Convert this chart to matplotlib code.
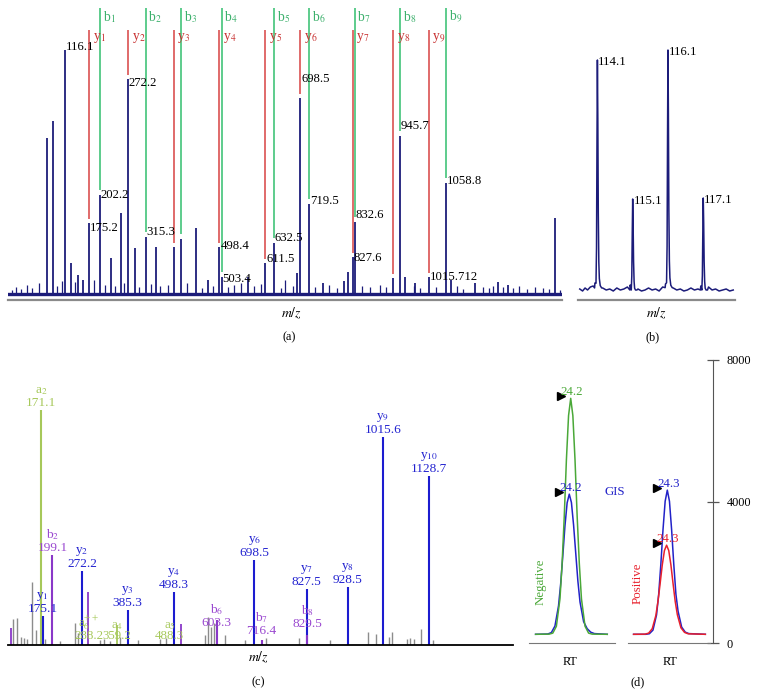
import numpy as np
import matplotlib
matplotlib.use('Agg')
from matplotlib import pyplot as plt

plt.rcParams['font.family'] = ['Liberation Serif', 'DejaVu Serif']
plt.rcParams['mathtext.fontset'] = 'stix'

# ---------------- data ----------------
# (a) MS/MS spectrum, m/z and intensity (arbitrary units)
a_mz = [70.8, 85.7, 116.1, 130.2, 148.3, 160.5, 175.2, 202.2, 229.2, 255.4, 272.2, 288.5,
        315.3, 340.5, 385.0, 403.1, 440.2, 470.0, 498.4, 503.4, 568.1, 611.5, 632.5,
        690.0, 698.5, 719.5, 753.7, 806.4, 817.0, 827.6, 832.6, 928.0, 945.7, 957.3,
        982.0, 1015.712, 1058.8, 1070.3, 1130.5, 1187.4, 1212.0, 1328.0]
a_int = [157, 174, 245, 32, 20, 15, 72, 100, 37, 82, 216, 47,
         58, 48, 48, 56, 67, 15, 48, 18, 18, 32, 52,
         22, 197, 91, 12, 14, 23, 38, 73, 17, 159, 18,
         12, 18, 112, 15, 12, 13, 10, 77]
a_noise_mz = [-15, -5, 8, 22, 35, 52, 96, 108, 140, 188, 215, 240, 262, 300, 330, 352, 370,
              418, 455, 482, 520, 535, 552, 585, 600, 650, 660, 680, 735, 770, 790, 850,
              870, 895, 910, 980, 995, 1035, 1085, 1100, 1150, 1165, 1175, 1200, 1225,
              1240, 1260, 1280, 1300, 1315, 1340]
a_noise_int = [5, 8, 6, 10, 7, 12, 9, 14, 13, 15, 10, 9, 12, 8, 11, 9, 10,
               12, 7, 9, 8, 10, 12, 9, 11, 7, 15, 9, 8, 10, 7, 9,
               8, 10, 8, 9, 7, 8, 9, 6, 8, 7, 9, 8, 7,
               9, 6, 8, 7, 6, 5]
a_lab_mz = [116.1, 175.2, 202.2, 272.2, 315.3, 498.4, 503.4, 611.5, 632.5, 698.5, 719.5,
            827.6, 832.6, 945.7, 1015.712, 1058.8]
a_lab_dy = [-3, 5, 0, 4, -5, -1, 2, -4, -5, -19, -3, 1, -7, -10, 0, -2]
b_ions = [202.2, 315.3, 403.1, 503.4, 632.5, 719.5, 832.6, 945.7, 1058.8]
y_ions = [175.2, 272.2, 385.0, 498.4, 611.5, 698.5, 827.6, 928.0, 1015.712]

# (b) reporter ions
rep_mz = [114.1, 115.1, 116.1, 117.1]
rep_int = [235, 96, 245, 97]
rep_base_mz = [113.6, 113.68, 113.75, 113.82, 113.9, 113.98, 114.03, 114.25, 114.35, 114.45,
               114.55, 114.65, 114.75, 114.85, 114.95, 115.03, 115.25, 115.35, 115.45, 115.55,
               115.65, 115.75, 115.85, 115.95, 116.03, 116.25, 116.35, 116.45, 116.55, 116.65,
               116.75, 116.85, 116.95, 117.03, 117.25, 117.35, 117.45, 117.55, 117.65, 117.75,
               117.85, 117.95]
rep_base_int = [6, 4, 7, 5, 8, 9, 12, 7, 5, 6, 4, 7, 5, 6, 8, 10, 6, 4, 5, 7,
                5, 6, 4, 8, 11, 7, 5, 6, 4, 5, 7, 5, 6, 9, 8, 5, 6, 4, 5, 6, 4, 5]
peak_offs = [-0.08, -0.04, -0.025, -0.012, 0, 0.012, 0.025, 0.04, 0.055, 0.08, 0.12]
peak_rel = [0.03, 0.05, 0.2, 0.65, 1, 0.75, 0.35, 0.14, 0.07, 0.04, 0.03]

# (c) annotated spectrum
c_ion = ['a$_2$', 'y$_1$', 'b$_2$', 'y$_2$', 'y$_3$', 'y$_4$', 'b$_6$', 'y$_6$', 'b$_7$',
         'y$_7$', 'b$_8$', 'y$_8$', 'y$_9$', 'y$_{10}$']
c_mz = [171.1, 175.1, 199.1, 272.2, 385.3, 498.3, 605.0, 698.5, 716.4, 827.5, 829.5, 928.5,
        1015.6, 1128.7]
c_txt = ['171.1', '175.1', '199.1', '272.2', '385.3', '498.3', '603.3', '698.5', '716.4',
         '827.5', '829.5', '928.5', '1015.6', '1128.7']
c_int = [235, 29, 90, 74, 35, 53, 25, 85, 5, 56, 10, 58, 208, 169]
c_kind = ['a', 'y', 'b', 'y', 'y', 'y', 'b', 'y', 'b', 'y', 'b', 'y', 'y', 'y']
c_lab_h = [235, 29, 90, 74, 35, 53, 15, 85, 7, 56, 14, 58, 208, 169]
c_small_ion = ['a$_6^{++}$', 'a$_4$', 'a$_5$']
c_small_mz = [288.2, 359.2, 488.3]
c_small_txt = ['288.2', '359.2', '488.3']
c_extra_mz = [97.4, 286.3, 516.3, 359.2]
c_extra_int = [17, 53, 21, 20]
c_extra_kind = ['b', 'b', 'b', 'a']
c_gray_mz = [102.3, 112.2, 121.3, 128.7, 136, 147.8, 157.7, 180.7, 217.8, 254.9, 262.3,
             316.7, 326.6, 341.5, 366, 410.7, 465, 480, 576.4, 583.8, 591.3, 598.7, 625.9,
             675.4, 727.3, 809, 885.7, 978.9, 997.7, 1029.8, 1038.2, 1075.4, 1083.5,
             1091.7, 1110.7, 1139.6]
c_gray_int = [26, 27, 8, 7, 6, 63, 15, 6, 4, 22, 12, 5, 6, 4, 8, 5, 6, 7, 10, 28, 18, 22,
              10, 5, 7, 7, 5, 13, 11, 8, 13, 6, 7, 6, 16, 5]

# (d) chromatograms (RT in min, intensity)
neg_rt = [23.71, 23.9, 23.95, 24.0, 24.05, 24.08, 24.11, 24.14, 24.17, 24.2, 24.23, 24.26,
          24.29, 24.32, 24.35, 24.4, 24.45, 24.5, 24.71]
neg_int = [246, 251, 279, 473, 1247, 2247, 3581, 5182, 6429, 6916, 6429, 5182, 3581, 2247,
           1247, 473, 279, 251, 246]
gis1_rt = [23.71, 23.88, 23.93, 23.98, 24.03, 24.06, 24.09, 24.12, 24.15, 24.18, 24.21,
           24.24, 24.27, 24.3, 24.33, 24.38, 24.43, 24.48, 24.53, 24.71]
gis1_int = [246, 254, 294, 480, 1050, 1672, 2477, 3317, 3962, 4208, 3970, 3336, 2544, 1752,
            1157, 603, 404, 305, 266, 246]
gis2_rt = [23.83, 24.0, 24.05, 24.1, 24.15, 24.18, 24.21, 24.24, 24.27, 24.3, 24.33, 24.36,
           24.39, 24.42, 24.45, 24.5, 24.55, 24.6, 24.83]
gis2_int = [246, 246, 262, 364, 796, 1379, 2230, 3204, 4007, 4321, 4007, 3204, 2230, 1379,
            898, 450, 307, 266, 246]
pos_rt = [23.83, 23.99, 24.04, 24.09, 24.14, 24.17, 24.2, 24.23, 24.26, 24.29, 24.32, 24.35,
          24.38, 24.41, 24.44, 24.49, 24.54, 24.59, 24.83]
pos_int = [246, 250, 279, 405, 775, 1178, 1682, 2211, 2614, 2765, 2614, 2211, 1682, 1178,
           800, 430, 300, 260, 246]
d_ticks = [0, 4000, 8000]

# ---------------- figure ----------------
W, H = 757, 695
fig = plt.figure(figsize=(W / 100, H / 100), dpi=100)


def box(x0, y0, x1, y1):
    ax = fig.add_axes([x0 / W, 1 - y1 / H, (x1 - x0) / W, (y1 - y0) / H])
    ax.patch.set_alpha(0)
    for s in ['top', 'right', 'left']:
        ax.spines[s].set_visible(False)
    ax.set_xticks([])
    ax.set_yticks([])
    return ax


def ftext(x, y, s, **kw):
    fig.text(x / W, 1 - y / H, s, **kw)


navy = '#1c1c7a'
fs = 8.8

# (a)
ax = box(8, 0, 562, 300)
ax.set_xlim(-25, 1346)
ax.set_ylim(-5, 295)
ax.spines['bottom'].set_color('#8a8a8a')
ax.spines['bottom'].set_linewidth(1.6)
ax.axhline(1.5, color=navy, lw=2.4)
ax.vlines(a_noise_mz, 0, a_noise_int, color=navy, lw=0.9)
ax.vlines(a_mz, 0, a_int, color=navy, lw=1.3)
ht = dict(zip(a_mz, a_int))
for m, dy in zip(a_lab_mz, a_lab_dy):
    lab = '1015.712' if m == 1015.712 else '%.1f' % m
    ax.text(m + 2, ht[m] - dy, lab, fontsize=fs + 0.4, ha='left', va='center')
for i, m in enumerate(b_ions):
    ax.vlines(m, ht[m] + 5, 287, color='#5dcc8c', lw=1.4)
    ax.text(m + 7, 278, 'b$_{%d}$' % (i + 1), color='#3cb06c', fontsize=fs + 1,
            ha='left', va='center')
for i, m in enumerate(y_ions):
    ax.vlines(m, ht[m] + 4, 265, color='#e06a6a', lw=1.4)
    ax.text(m + 9, 257, 'y$_{%d}$' % (i + 1), color='#c83232', fontsize=fs + 1,
            ha='left', va='center')

# (b)
ax = box(578, 0, 735, 300)
ax.set_xlim(113.55, 118.0)
ax.set_ylim(-5, 295)
ax.spines['bottom'].set_color('#8a8a8a')
ax.spines['bottom'].set_linewidth(1.6)
xs = list(rep_base_mz)
ys = list(rep_base_int)
for c, h in zip(rep_mz, rep_int):
    xs += [c + o for o in peak_offs]
    ys += [max(r * h, 5) for r in peak_rel]
order = np.argsort(xs)
ax.plot(np.array(xs)[order], np.array(ys)[order], color=navy, lw=1.1)
for c, h in zip(rep_mz, rep_int):
    ax.text(c + 0.02, h - 2, '%.1f' % c, fontsize=fs + 0.4, ha='left', va='center')

ftext(291, 313, '$m/z$', fontsize=fs + 1, ha='center', va='center')
ftext(656, 313, '$m/z$', fontsize=fs + 1, ha='center', va='center')
ftext(289, 337, '(a)', fontsize=fs, ha='center', va='center')
ftext(653, 337, '(b)', fontsize=fs, ha='center', va='center')

# (c)
col = {'a': '#a6c85a', 'b': '#9a48d0', 'y': '#2222d0'}
lcol = {'a': '#a6c85a', 'b': '#8a38c8', 'y': '#1c1cd0'}
ax = box(8, 380, 513, 645)
ax.set_xlim(89.2, 1337.5)
ax.set_ylim(0, 265)
ax.spines['bottom'].set_linewidth(1.3)
ax.vlines(c_gray_mz, 0, c_gray_int, color='#8c8c8c', lw=1.0)
for m, h, k in zip(c_extra_mz, c_extra_int, c_extra_kind):
    ax.vlines(m, 0, h, color=lcol[k], lw=1.3)
for m, h, k in zip(c_mz, c_int, c_kind):
    ax.vlines(m, 0, h, color=lcol[k], lw=1.5)
for ion, m, t, hl, k in zip(c_ion, c_mz, c_txt, c_lab_h, c_kind):
    ax.text(m, hl + 1, ion + '\n' + t, color=col[k], fontsize=fs + 0.8, ha='center',
            va='bottom', linespacing=1.05)
for ion, m, t in zip(c_small_ion, c_small_mz, c_small_txt):
    ax.text(m, 3, ion + '\n' + t, color=col['a'], fontsize=fs + 0.5, ha='center',
            va='bottom', linespacing=0.75)
ftext(258, 657, '$m/z$', fontsize=fs + 1, ha='center', va='center')
ftext(258, 682, '(c)', fontsize=fs, ha='center', va='center')

# (d)
green, blue, red = '#4aa838', '#2222c8', '#e8202c'
axl = box(529, 360, 615, 643)
axl.set_xlim(23.618, 24.818)
axl.set_ylim(0, 8000)
axl.spines['bottom'].set_color('#777777')
axl.plot(gis1_rt, gis1_int, color=blue, lw=1.1)
axl.plot(neg_rt, neg_int, color=green, lw=1.1)

axr = box(628, 360, 713, 643)
axr.set_xlim(23.752, 24.937)
axr.set_ylim(0, 8000)
axr.spines['bottom'].set_color('#777777')
axr.spines['bottom'].set_bounds(23.752, 24.895)
axr.spines['right'].set_visible(True)
axr.spines['right'].set_color('#555555')
axr.yaxis.tick_right()
axr.set_yticks(d_ticks)
axr.set_yticklabels([str(t) for t in d_ticks], fontsize=fs)
axr.tick_params(axis='y', direction='inout', length=8, width=0.9, colors='#555555',
                labelcolor='black', pad=6)
axr.plot(gis2_rt, gis2_int, color=blue, lw=1.1)
axr.plot(pos_rt, pos_int, color=red, lw=1.1)

for a, rts, ints, c in [(axl, neg_rt, neg_int, green), (axl, gis1_rt, gis1_int, blue),
                        (axr, gis2_rt, gis2_int, blue), (axr, pos_rt, pos_int, red)]:
    i = int(np.argmax(ints))
    rt, v = rts[i], ints[i]
    a.plot(rt - 0.14, v + 60, marker='>', color='black', ms=6, clip_on=False)
    a.text(rt + 0.02, v + 180, '%.1f' % rt, color=c, fontsize=fs + 0.5, ha='center',
           va='center')

ftext(615, 492, 'GIS', color=blue, fontsize=fs + 0.5, ha='center', va='center')
ftext(541, 582, 'Negative', color=green, fontsize=fs + 0.5, rotation=90, ha='center',
      va='center')
ftext(638, 583, 'Positive', color=red, fontsize=fs + 0.5, rotation=90, ha='center',
      va='center')
ftext(570, 662, 'RT', fontsize=fs, ha='center', va='center')
ftext(670, 662, 'RT', fontsize=fs, ha='center', va='center')
ftext(638, 682, '(d)', fontsize=fs, ha='center', va='center')

fig.savefig('out.png', dpi=100)
